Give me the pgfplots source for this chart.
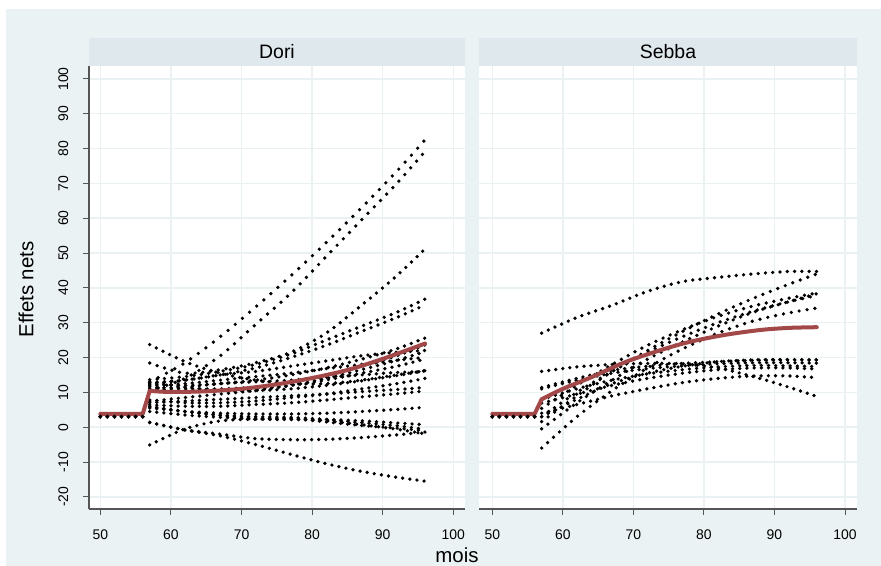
\documentclass[border=0pt]{standalone}
\usepackage{pgfplots}
\pgfplotsset{compat=1.18}
\usepackage{fontspec}
\setmainfont{Liberation Sans}
\definecolor{bgc}{RGB}{234,242,243}
\definecolor{hdr}{RGB}{222,232,237}
\definecolor{gridc}{RGB}{233,241,243}
\definecolor{axc}{RGB}{85,85,85}
\definecolor{meanc}{RGB}{163,72,72}
\pgfplotsset{
  dots/.style={black, line width=3.7bp, line cap=round, dash pattern=on 0bp off #1bp, smooth, tension=0.5, mark=none},
  dots/.default=7.1,
  panel/.style={
    scale only axis, height=443bp,
    ymin=-23.5, ymax=103.7,
    xtick={50,60,...,100}, ytick={-20,-10,...,100},
    grid=major, major grid style={gridc, line width=1.4bp},
    axis background/.style={fill=white},
    axis x line=bottom, axis y line=left,
    axis line style={-, draw=axc, line width=1.1bp},
    tick align=outside, major tick length=6bp,
    tick style={axc, line width=0.9bp},
    ticklabel style={font=\fontsize{14}{16}\selectfont, text=black},
    /pgf/number format/assume math mode=true,
    xticklabel style={anchor=base, inner sep=0pt, yshift=-24.3bp},
  },
  meanline/.style={meanc, line width=4bp, line cap=round, line join=round},
  flatdots/.style={only marks, mark=*, mark size=1.9bp, black},
}
\begin{document}
\begin{tikzpicture}
\useasboundingbox (0,0) rectangle (881bp,566bp);
\fill[white] (0,0) rectangle (881bp,566bp);
\fill[bgc] (6bp,0) rectangle (881bp,557bp);
\fill[hdr] (89bp,500bp) rectangle (465bp,528bp);
\fill[hdr] (479.3bp,500bp) rectangle (856.7bp,528bp);
\node[anchor=base, inner sep=0pt, font=\fontsize{19.5}{22}\selectfont] at (277bp,507.5bp) {Dori};
\node[anchor=base, inner sep=0pt, font=\fontsize{19.5}{22}\selectfont] at (668bp,507.5bp) {Sebba};
\node[anchor=base, inner sep=0pt, font=\fontsize{20.5}{24}\selectfont] at (457bp,3.5bp) {mois};
\node[anchor=base, inner sep=0pt, rotate=90, font=\fontsize{20.5}{24}\selectfont] at (33.3bp,276.5bp) {Effets nets};

% ---------------- Dori ----------------
\begin{axis}[panel, at={(89bp,57bp)}, anchor=south west, width=376bp,
  xmin=48.4, xmax=101.65,
  yticklabel style={inner sep=0pt, xshift=-15bp, rotate=90, anchor=base}]
\addplot[flatdots] coordinates {(50,3)(51,3)(52,3)(53,3)(54,3)(55,3)(56,3)};
\addplot[dots=9.4] coordinates {(57,13)(62,18.5)(67,26)(72,34.5)(77,43.5)(82,53)(87,63)(92,73.5)(96,82.5)};
\addplot[dots=8.9] coordinates {(57,10.5)(62,14)(67,20.5)(72,29.5)(77,38.5)(82,49)(87,59.5)(92,70)(96,79.2)};
\addplot[dots=7.8] coordinates {(57,18.4)(62,15.5)(67,16.5)(72,18.5)(77,21.5)(82,27)(87,35)(92,43.5)(96,51.2)};
\addplot[dots=7.4] coordinates {(57,23.7)(62,18.8)(67,15.5)(72,13.5)(77,12.5)(82,12.5)(87,13.5)(92,15)(96,16.2)};
\addplot[dots=7.4] coordinates {(57,13.6)(62,14.5)(67,16)(72,18)(77,21)(82,25)(87,29)(92,33)(96,36.8)};
\addplot[dots=7.4] coordinates {(57,12.8)(62,13.5)(67,15)(72,17)(77,20)(82,23.5)(87,27.5)(92,31.5)(96,35.1)};
\addplot[dots=7.2] coordinates {(57,12.2)(62,12)(67,12.5)(72,13.5)(77,15)(82,17)(87,19.5)(92,22.5)(96,25.6)};
\addplot[dots=7.2] coordinates {(57,11.6)(62,11)(67,11)(72,11.5)(77,13)(82,15)(87,17.5)(92,20.5)(96,23.6)};
\addplot[dots=7.2] coordinates {(57,11)(62,10.5)(67,10.5)(72,11)(77,12)(82,14)(87,16.5)(92,19.2)(96,21.7)};
\addplot[dots=7.2] coordinates {(57,7.4)(62,8.5)(67,9.5)(72,10.5)(77,12)(82,13.5)(87,15.5)(92,17.5)(96,19.6)};
\addplot[dots=7.1] coordinates {(57,13)(62,11.5)(67,10.5)(72,10.5)(77,11)(82,12)(87,13.3)(92,14.8)(96,16.2)};
\addplot[dots=7.1] coordinates {(57,7)(62,7.5)(67,8)(72,8.5)(77,9)(82,9.5)(87,10.2)(92,10.8)(96,11.4)};
\addplot[dots=7.1] coordinates {(57,6.4)(62,6)(67,6)(72,6.5)(77,7)(82,7.8)(87,8.7)(92,9.6)(96,10.4)};
\addplot[dots=7.1] coordinates {(57,5.5)(62,4.5)(67,4)(72,3.8)(77,3.8)(82,4)(87,4.5)(92,5.1)(96,5.7)};
\addplot[dots=7.1] coordinates {(57,4.5)(62,3.5)(67,2.8)(72,2.3)(77,2.2)(82,2.2)(87,1.8)(92,1.2)(96,0.7)};
\addplot[dots=7.1] coordinates {(57,6)(62,4.5)(67,3.5)(72,3)(77,2.8)(82,2.2)(87,1.3)(92,0.4)(96,-0.6)};
\addplot[dots=7.3] coordinates {(57,-5.1)(62,-0.5)(67,1.8)(72,2.3)(77,2.3)(82,1.8)(87,0.7)(92,-0.6)(96,-1.9)};
\addplot[dots=7.1] coordinates {(57,1.4)(62,-0.8)(67,-2)(72,-3.3)(77,-3.6)(82,-3.5)(87,-3)(92,-2.2)(96,-1.4)};
\addplot[dots=7.2] coordinates {(57,1.3)(62,-0.8)(67,-2.5)(72,-5)(77,-7.8)(82,-10.5)(87,-12.7)(92,-14.4)(96,-15.5)};
\addplot[dots=7.1] coordinates {(57,12.5)(62,13.5)(67,15)(72,16)(77,17.5)(82,19)(87,20.5)(92,21.5)(96,22)};
\addplot[dots=7.1] coordinates {(57,11.2)(62,11.5)(67,12.5)(72,13)(77,13.5)(82,14.3)(87,15)(92,15.7)(96,16)};
\addplot[dots=7.1] coordinates {(57,5.8)(62,4.5)(67,3.3)(72,2.6)(77,2.5)(82,1.5)(87,0.5)(92,-0.3)(96,-1.0)};
\addplot[dots=7.1] coordinates {(57,12)(62,12.5)(67,13.5)(72,14.5)(77,15.5)(82,16.8)(87,18)(92,19.2)(96,20)};
\addplot[dots=7.1] coordinates {(57,7.8)(62,7)(67,7)(72,7.5)(77,8.5)(82,9.5)(87,11)(92,12.5)(96,14)};
\addplot[meanline] coordinates {(50,3.8)(56,3.8)(57,10.4)};
\addplot[meanline, smooth] coordinates {(57,10.4)(60,10.1)(65,10.3)(70,11)(75,12.3)(80,14.1)(85,16.4)(90,19.6)(96,24)};
\end{axis}

% ---------------- Sebba ----------------
\begin{axis}[panel, at={(479.3bp,57bp)}, anchor=south west, width=377.4bp,
  xmin=48.16, xmax=101.66,
  y axis line style={draw=none}, ytick style={draw=none}, yticklabels={}]
\addplot[flatdots] coordinates {(50,3)(51,3)(52,3)(53,3)(54,3)(55,3)(56,3)};
\addplot[dots=7.3] coordinates {(57,27)(62,31.5)(67,35)(72,39)(77,41.8)(82,43)(87,44)(92,44.7)(96,44.7)};
\addplot[dots=8.0] coordinates {(57,1.6)(62,9)(67,16)(72,22)(77,27.5)(82,32.5)(87,37)(92,41)(96,44.0)};
\addplot[dots=7.8] coordinates {(57,5.4)(62,12)(67,18)(72,23.5)(77,28)(82,31.8)(87,34.8)(92,37)(96,38.5)};
\addplot[dots=7.8] coordinates {(57,3.0)(62,10)(67,16)(72,21.5)(77,26)(82,30)(87,33.3)(92,36)(96,37.8)};
\addplot[dots=8.0] coordinates {(57,-6)(62,3)(67,10.5)(72,17)(77,22.5)(82,27)(87,30.5)(92,32.8)(96,34.2)};
\addplot[dots=7.9] coordinates {(57,-0.5)(62,7)(67,13.5)(72,19.5)(77,24.5)(82,29)(87,33)(92,36)(96,38.3)};
\addplot[dots=7.1] coordinates {(57,16)(62,17.3)(67,18)(72,18.3)(77,18.2)(82,17)(87,14.5)(92,11.5)(96,8.8)};
\addplot[dots=7.1] coordinates {(57,11.4)(62,14)(67,16.3)(72,17.5)(77,18.3)(82,18.8)(87,19.2)(92,19.3)(96,19.3)};
\addplot[dots=7.1] coordinates {(57,11)(62,13.5)(67,15.5)(72,16.8)(77,17.6)(82,18.2)(87,18.5)(92,18.5)(96,18.4)};
\addplot[dots=7.2] coordinates {(57,8)(62,11)(67,13.5)(72,15.3)(77,16.5)(82,17.3)(87,17.7)(92,17.6)(96,17.4)};
\addplot[dots=7.2] coordinates {(57,6.9)(62,9.5)(67,12)(72,14)(77,15.5)(82,16.5)(87,17)(92,17)(96,16.7)};
\addplot[dots=7.2] coordinates {(57,4)(62,6.5)(67,9)(72,11)(77,12.8)(82,14)(87,14.7)(92,14.7)(96,14.2)};
\addplot[dots=7.3] coordinates {(57,3.0)(62,8)(67,12.5)(72,15.5)(77,17.5)(82,18.8)(87,19.3)(92,19.4)(96,19.3)};
\addplot[meanline] coordinates {(50,3.8)(56,3.8)(57,8.0)};
\addplot[meanline, smooth] coordinates {(57,8.0)(60,11)(64,14.3)(69,18.8)(74,22.2)(78,24.5)(83,26.5)(88,27.9)(92,28.5)(96,28.7)};
\end{axis}
\end{tikzpicture}
\end{document}
